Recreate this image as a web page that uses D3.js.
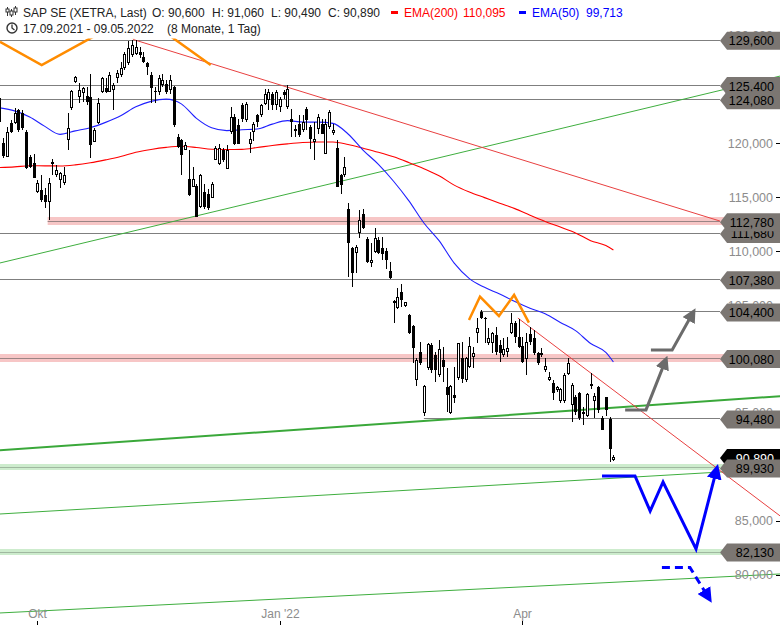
<!DOCTYPE html>
<html><head><meta charset="utf-8">
<script src="https://cdn.jsdelivr.net/npm/d3@7"></script>
<style>body{margin:0;background:#fff}svg{display:block;font-family:"Liberation Sans",Arial,sans-serif}</style>
</head><body><svg id="c" width="780" height="625"></svg>
<script>
// ---- data (SAP SE, XETRA, daily, 17.09.2021 - 09.05.2022) ----
const opens=[124.17,120.0,118.77,121.85,121.85,123.08,122.78,121.08,118.77,118.15,115.46,115.67,115.21,114.6,118.25,117.06,116.6,116.3,120.31,123.24,125.71,124.32,124.63,124.42,124.32,120.16,121.85,124.79,125.09,124.79,124.93,126.02,126.33,126.94,127.41,128.18,128.33,128.49,128.03,127.41,126.33,124.84,124.79,125.37,125.46,124.91,125.21,120.58,120.28,119.41,116.73,115.95,116.02,114.1,115.49,115.34,114.97,118.49,118.12,119.41,117.66,121.05,122.43,121.67,123.52,122.19,119.97,121.05,122.59,122.59,123.67,123.98,124.6,123.52,123.36,124.75,123.36,122.29,121.3,121.82,121.2,123.21,121.51,120.12,121.36,121.82,119.04,121.51,120.95,119.6,117.04,117.04,113.95,110.25,109.79,111.64,113.42,111.08,108.86,109.93,111.02,110.3,110.0,108.15,105.16,104.69,106.23,104.94,104.07,103.05,98.05,100.68,94.97,99.14,101.3,100.37,98.52,99.91,97.38,94.97,96.67,98.21,100.06,98.05,99.29,100.21,102.38,104.38,103.77,101.45,101.45,102.22,101.3,100.37,100.68,102.38,103.3,102.0,101.2,99.97,102.31,101.91,100.53,100.53,98.98,98.05,97.75,97.13,96.05,96.05,98.61,95.74,96.51,96.88,95.03,94.66,97.66,96.05,97.38,94.51,96.45,94.41,90.6];
const highs=[124.32,120.5,121.55,122.16,123.24,123.15,123.08,121.23,118.92,118.98,116.6,117.06,115.83,116.76,118.55,117.99,117.38,117.84,122.78,124.93,126.27,125.56,125.25,125.25,126.39,121.39,124.17,126.18,126.02,126.64,125.56,126.79,127.56,128.49,129.47,129.56,129.56,128.95,128.49,127.56,126.64,125.25,126.33,126.45,125.83,126.3,125.28,120.83,120.43,120.12,119.35,117.81,116.27,117.19,116.27,115.8,116.42,119.72,119.97,119.6,119.81,123.36,122.75,122.29,123.73,123.82,121.05,121.97,122.75,123.67,125.06,125.06,124.75,124.91,124.29,124.91,125.37,123.21,121.67,122.59,122.59,123.36,121.67,121.97,122.75,122.29,122.29,123.06,121.82,120.28,117.19,118.73,114.42,110.4,110.55,113.8,113.86,111.32,110.71,112.1,111.32,111.32,110.3,109.01,105.46,106.55,106.94,105.31,104.16,103.15,100.06,101.6,97.59,101.45,101.45,100.68,101.76,101.14,99.14,97.59,99.29,101.51,101.6,100.21,102.06,101.14,103.77,104.54,103.9,102.84,102.53,102.99,101.76,101.91,102.0,104.23,103.55,103.67,102.06,102.38,102.99,102.69,100.68,100.99,100.06,98.83,98.05,97.5,97.28,98.67,100.06,97.75,96.67,96.97,95.58,96.88,98.73,96.82,97.5,94.66,96.51,94.6,91.06];
const lows=[121.92,118.6,118.7,121.0,121.76,121.08,121.23,117.62,117.68,116.76,115.37,114.6,113.98,112.9,117.06,116.91,115.83,116.14,119.38,123.08,125.56,123.7,123.86,123.55,118.61,120.09,121.76,124.63,124.63,124.72,123.08,125.56,126.18,126.79,127.25,128.03,128.18,127.87,127.41,126.33,123.7,123.7,124.47,125.21,124.6,124.6,121.51,119.6,117.04,119.35,115.09,115.9,113.18,114.04,113.95,113.8,114.88,118.43,117.96,118.27,117.59,120.9,119.81,119.91,121.97,121.97,119.1,120.21,121.51,122.43,123.52,123.06,123.06,123.06,122.9,124.14,123.21,120.58,120.58,120.58,121.05,121.2,119.51,118.43,120.9,120.83,118.98,121.36,120.74,115.9,115.28,116.88,107.62,106.69,107.94,111.18,112.01,108.92,108.55,109.84,109.72,109.17,108.3,107.41,103.3,104.63,104.84,104.84,102.31,99.6,97.44,99.44,94.66,98.98,98.67,97.9,98.36,97.9,95.12,94.9,95.9,98.05,97.75,97.9,99.14,99.14,101.45,103.73,101.45,101.3,100.53,100.37,99.75,100.21,100.15,102.31,101.45,100.99,99.66,98.52,101.3,100.37,99.44,100.21,98.83,97.99,96.2,96.97,95.95,95.9,98.52,94.13,94.81,94.35,93.89,94.6,97.19,94.51,94.97,93.43,94.66,90.4,90.49];
const closes=[122.01,118.8,121.08,121.08,122.78,121.23,121.39,117.68,117.84,116.76,116.3,114.75,114.6,116.3,118.3,117.53,117.22,117.06,121.45,124.84,126.18,124.93,125.09,123.86,119.84,121.23,123.7,126.02,124.79,126.33,125.4,126.48,126.94,128.33,128.8,129.1,128.95,128.18,127.56,127.1,125.09,124.72,126.02,125.83,124.75,125.83,121.67,119.66,118.89,119.81,115.19,116.73,113.18,117.04,114.1,114.04,116.27,119.6,119.6,118.43,119.41,122.43,119.97,119.97,122.29,123.67,120.43,121.82,121.97,123.52,124.6,124.75,123.52,124.75,124.14,124.44,125.06,121.97,121.14,120.74,121.97,122.13,120.43,120.43,122.43,120.9,121.82,122.9,121.2,115.95,116.11,117.81,110.71,107.94,110.4,112.93,112.1,109.01,109.17,111.18,109.79,109.72,109.17,107.47,105.37,105.71,105.46,105.25,102.38,100.99,99.91,99.6,97.5,101.36,98.98,98.98,100.9,99.29,96.67,97.44,96.36,101.45,98.12,100.06,101.2,100.53,102.84,103.77,103.68,101.91,102.43,100.68,100.53,100.9,100.99,103.36,102.06,101.14,99.75,101.6,101.6,100.53,99.6,100.37,99.35,98.3,96.82,97.38,97.19,98.52,99.6,97.59,95.12,94.51,94.91,96.76,97.5,96.57,95.28,93.43,95.28,91.63,90.89];

const emaIdx=[0,4,8,12,16,20,24,28,32,36,40,44,48,52,56,60,64,68,72,76,80,84,88,92,96,100,104,108,112,116,120,124,128,132,136,140,144,148,152,156,160,162];
const ema200=[117.75,117.81,117.92,117.91,117.90,118.00,118.19,118.46,118.77,119.17,119.43,119.62,119.72,119.61,119.45,119.42,119.44,119.61,119.80,119.95,120.07,120.12,120.12,119.89,119.54,119.17,118.75,118.22,117.65,116.99,116.12,115.48,114.96,114.44,113.94,113.33,112.75,112.23,111.69,110.97,110.51,110.095];
const ema50=[123.30,123.01,122.45,121.57,120.83,121.15,121.45,121.94,122.55,123.38,123.89,124.10,123.66,122.31,121.44,121.18,121.26,121.32,121.78,122.10,121.97,121.96,121.85,120.86,119.35,118.05,116.48,114.68,112.61,110.97,108.89,107.45,106.64,106.02,105.32,104.70,104.19,103.38,102.62,101.43,100.60,99.713];

const xTickIdx=[10,74,138];
const xTickLabels=["Okt","Jan '22","Apr"];
const yTicks=[80,85,90,95,100,105,110,115,120,125,130];

const grayLevels=[129.6,125.4,124.08,111.68,107.38,104.4,94.48];
const grayLevelStart=[0,0,0,0,0,126.8,112];
const pinkLevels=[112.78,100.08];
const pinkLevelStart=[13,0];
const greenLevels=[89.93,82.13];
const labelOrder=[129.6,125.4,124.08,111.68,112.78,107.38,104.4,100.08,94.48,89.93,82.13];

// trend lines as [barIndex, price]
const redUpper=[[35.3,129.63],[190.1,112.79]];
const redLower=[[136.8,103.79],[206,85.43]];
const greenUpper=[[0.16,108.9],[206,126.24]];
const greenThick=[[0,91.52],[206,96.54]];
const greenLow1=[[0,85.61],[206,89.83]];
const greenLow2=[[0,76.43],[206,80.05]];
const orangeTop=[[0.16,129.42],[11.16,127.26],[26.54,130.23],[35.25,129.86],[43.96,130.23],[55.75,127.26]];
const orangeM=[[123.9,103.61],[126.8,105.77],[131.8,103.98],[135.8,105.93],[139.7,103.36]];
const grayArrow1=[[165.1,95.27],[170.6,95.27],[175.3,99.45]];
const grayArrow2=[[171.9,100.83],[177.5,100.83],[182.4,103.9]];
const blueProj=[[159,89.14],[167.7,89.14],[171.7,85.89],[175.1,88.58],[183.8,82.37],[188.9,89.3]];
const blueDash=[[174.8,80.66],[182.2,80.66],[186.5,78.2]];

// ---- chart ----
const svg=d3.select("#c");
const W=780,H=625;
const x=d3.scaleLinear().domain([10,162]).range([37.3,613.4]);
const y=d3.scaleLinear().domain([120,80]).range([143.3,574.5]);
const loc=d3.formatLocale({decimal:",",thousands:".",grouping:[3],currency:["",""]});
const fmt=loc.format(".3f");

const defs=svg.append("defs");
defs.append("clipPath").attr("id","plot").append("rect").attr("x",0).attr("y",38.5).attr("width",W).attr("height",H-38.5);
function marker(id,color,w,h){
  defs.append("marker").attr("id",id).attr("markerUnits","userSpaceOnUse")
   .attr("viewBox","0 0 10 10").attr("refX",3).attr("refY",5)
   .attr("markerWidth",w).attr("markerHeight",h).attr("orient","auto")
   .append("path").attr("d","M0,0 L10,5 L0,10 Z").attr("fill",color);
}
marker("ag","#6b6b6b",14,14);
marker("ab","#0000ff",15,15);

const g=svg.append("g").attr("clip-path","url(#plot)");
const line=d3.line().x(d=>x(d[0])).y(d=>y(d[1]));

// y ticks (under labels)
const ax=svg.append("g");
yTicks.forEach(v=>{
  ax.append("line").attr("x1",776).attr("x2",780).attr("y1",Math.round(y(v))+0.5).attr("y2",Math.round(y(v))+0.5).attr("stroke","#000");
  ax.append("text").attr("x",773).attr("y",y(v)+4.5).attr("text-anchor","end").attr("font-size",12.5).attr("fill","#8c8c8c").text(fmt(v));
});

// level bands and lines
pinkLevels.forEach((v,i)=>{
  const yy=Math.round(y(v));
  g.append("rect").attr("x",x(pinkLevelStart[i])-1).attr("y",yy-4).attr("width",W).attr("height",8).attr("fill","#f7c6c6");
  g.append("line").attr("x1",x(pinkLevelStart[i])-1).attr("x2",720).attr("y1",yy+0.5).attr("y2",yy+0.5).attr("stroke","#9a8585");
});
greenLevels.forEach(v=>{
  const yy=Math.round(y(v));
  g.append("rect").attr("x",0).attr("y",yy-3).attr("width",W).attr("height",6).attr("fill","#cdeccd");
  g.append("line").attr("x1",0).attr("x2",720).attr("y1",yy+0.5).attr("y2",yy+0.5).attr("stroke","#a0b8a0");
});
grayLevels.forEach((v,i)=>{
  const yy=Math.round(y(v))+0.5;
  g.append("line").attr("x1",grayLevelStart[i]===0?0:x(grayLevelStart[i])).attr("x2",720).attr("y1",yy).attr("y2",yy).attr("stroke","#7f7f7f");
});

// trend lines
g.append("path").attr("d",line(greenUpper)).attr("stroke","#3fae3f").attr("fill","none").attr("stroke-width",1);
g.append("path").attr("d",line(greenLow1)).attr("stroke","#3fae3f").attr("fill","none").attr("stroke-width",1);
g.append("path").attr("d",line(greenLow2)).attr("stroke","#3fae3f").attr("fill","none").attr("stroke-width",1);
g.append("path").attr("d",line(greenThick)).attr("stroke","#3aa83a").attr("fill","none").attr("stroke-width",2);
g.append("path").attr("d",line(redUpper)).attr("stroke","#e84040").attr("fill","none").attr("stroke-width",1);
g.append("path").attr("d",line(redLower)).attr("stroke","#e84040").attr("fill","none").attr("stroke-width",1);

// EMAs
const emaLine=d3.line().x((d,i)=>x(emaIdx[i])).y(d=>y(d)).curve(d3.curveMonotoneX);
g.append("path").attr("d",emaLine(ema200)).attr("stroke","#ff0000").attr("fill","none").attr("stroke-width",1.1);
g.append("path").attr("d",emaLine(ema50)).attr("stroke","#2020ff").attr("fill","none").attr("stroke-width",1.1);

// candles
const cg=g.append("g").attr("shape-rendering","crispEdges");
opens.forEach((o,i)=>{
  const c=closes[i],h=highs[i],l=lows[i];
  const cx=Math.round(x(i));
  cg.append("line").attr("x1",cx+0.5).attr("x2",cx+0.5).attr("y1",Math.round(y(h))).attr("y2",Math.round(y(l))).attr("stroke","#000");
  const top=Math.round(y(Math.max(o,c))),bot=Math.round(y(Math.min(o,c)));
  if(c>=o){
    cg.append("rect").attr("x",cx-0.5).attr("y",top+0.5).attr("width",2).attr("height",Math.max(bot-top-1,0.5)).attr("fill","#fff").attr("stroke","#000");
  }else{
    cg.append("rect").attr("x",cx-1).attr("y",top).attr("width",3).attr("height",Math.max(bot-top,1)).attr("fill","#000");
  }
});

// annotations
g.append("path").attr("d",line(orangeTop)).attr("stroke","#ff8c00").attr("fill","none").attr("stroke-width",2.5);
g.append("path").attr("d",line(orangeM)).attr("stroke","#ff8c00").attr("fill","none").attr("stroke-width",2.5);
g.append("path").attr("d",line(grayArrow1)).attr("stroke","#6b6b6b").attr("fill","none").attr("stroke-width",3).attr("marker-end","url(#ag)");
g.append("path").attr("d",line(grayArrow2)).attr("stroke","#6b6b6b").attr("fill","none").attr("stroke-width",3).attr("marker-end","url(#ag)");
g.append("path").attr("d",line(blueProj)).attr("stroke","#0000ff").attr("fill","none").attr("stroke-width",3).attr("marker-end","url(#ab)");
g.append("path").attr("d",line(blueDash)).attr("stroke","#0000ff").attr("fill","none").attr("stroke-width",3).attr("stroke-dasharray","8,5").attr("marker-end","url(#ab)");

// price labels
function tag(v,fill,txtColor){
  const cy=y(v)+1,hh=9;
  const lg=svg.append("g");
  lg.append("path").attr("d",`M720,${cy} L727,${cy-hh} L780,${cy-hh} L780,${cy+hh} L727,${cy+hh} Z`).attr("fill",fill);
  lg.append("text").attr("x",774).attr("y",cy+4.5).attr("text-anchor","end").attr("font-size",12.5).attr("fill",txtColor).text(fmt(v));
}
tag(closes[closes.length-1],"#000","#fff");
labelOrder.forEach(v=>tag(v,"#7b7672","#000"));

// x axis
xTickIdx.forEach((idx,i)=>{
  const xx=Math.round(x(idx))+0.5;
  svg.append("line").attr("x1",xx).attr("x2",xx).attr("y1",621).attr("y2",625).attr("stroke","#000");
  svg.append("text").attr("x",xx).attr("y",618).attr("text-anchor","middle").attr("font-size",12).attr("fill","#8c8c8c").text(xTickLabels[i]);
});

// header
const hd=svg.append("g").attr("font-size",12);
const hi=svg.append("g").attr("stroke","#333").attr("fill","none");
[[7,7,16,9,12],[11,9,17,11,15],[15,6,15,8,12]].forEach(d=>{
  hi.append("line").attr("x1",d[0]+0.5).attr("x2",d[0]+0.5).attr("y1",d[1]).attr("y2",d[2]);
  hi.append("rect").attr("x",d[0]-1).attr("y",d[3]).attr("width",3).attr("height",d[4]-d[3]).attr("fill","#fff");
});
hi.append("circle").attr("cx",12).attr("cy",28).attr("r",5).attr("stroke-width",1.4);
hi.append("path").attr("d","M12,24.5 L12,28 L14.5,30").attr("stroke-width",1.3);
const N=closes.length-1;
hd.append("text").attr("x",23).attr("y",17).attr("fill","#222").text("SAP SE (XETRA, Last)");
hd.append("text").attr("x",152).attr("y",17).attr("fill","#222").text("O: "+fmt(opens[N]));
hd.append("text").attr("x",212).attr("y",17).attr("fill","#222").text("H: "+fmt(highs[N]));
hd.append("text").attr("x",271).attr("y",17).attr("fill","#222").text("L: "+fmt(lows[N]));
hd.append("text").attr("x",328).attr("y",17).attr("fill","#222").text("C: "+fmt(closes[N]));
svg.append("rect").attr("x",391).attr("y",11).attr("width",7).attr("height",3).attr("fill","#ff0000");
hd.append("text").attr("x",404).attr("y",17).attr("fill","#ff0000").text("EMA(200)");
hd.append("text").attr("x",463).attr("y",17).attr("fill","#ff0000").text(fmt(ema200[ema200.length-1]));
svg.append("rect").attr("x",519).attr("y",11).attr("width",7).attr("height",3).attr("fill","#0000ff");
hd.append("text").attr("x",532).attr("y",17).attr("fill","#0000ff").text("EMA(50)");
hd.append("text").attr("x",586).attr("y",17).attr("fill","#0000ff").text(fmt(ema50[ema50.length-1]));
hd.append("text").attr("x",23).attr("y",33).attr("fill","#222").text("17.09.2021 - 09.05.2022");
hd.append("text").attr("x",167).attr("y",33).attr("fill","#222").text("(8 Monate, 1 Tag)");
</script></body></html>
